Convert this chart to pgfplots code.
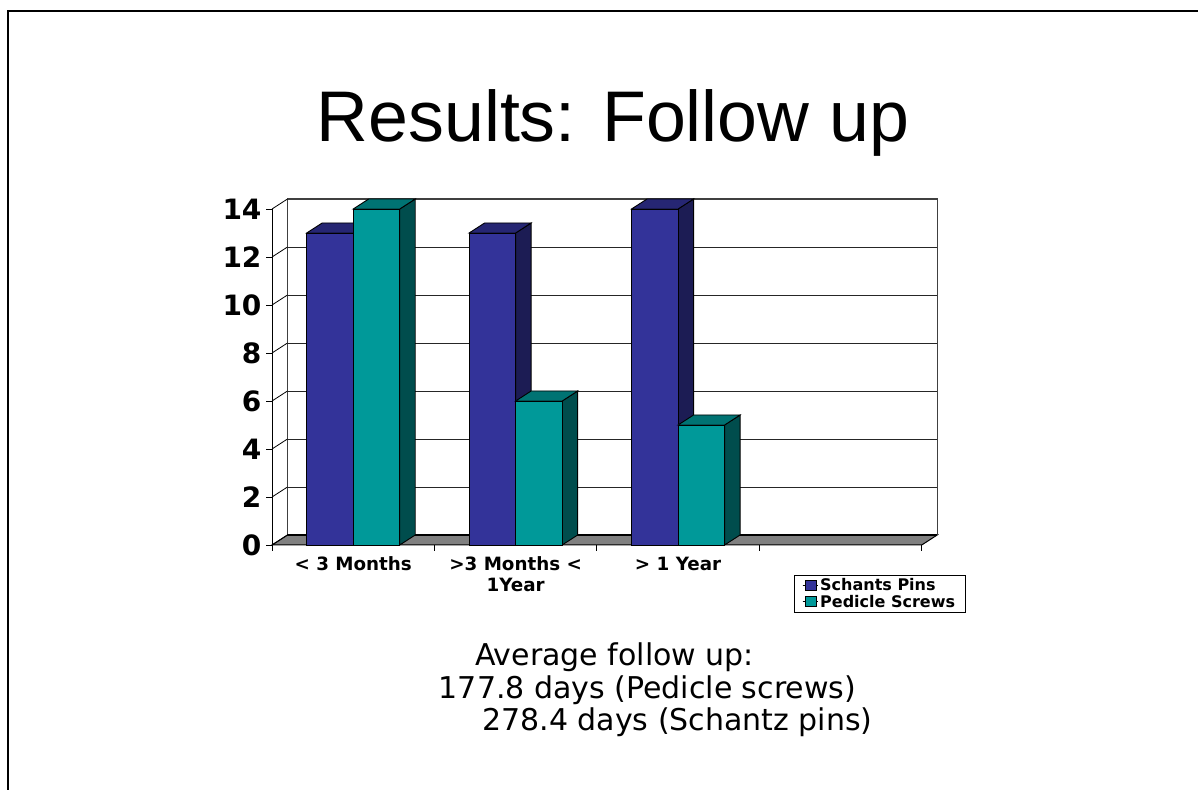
\documentclass[border=0pt]{standalone}
\usepackage{fontspec}
\usepackage{pgfplots}
\pgfplotsset{compat=1.18}
\setmainfont{DejaVu Sans}
\newfontfamily\arialfont{Liberation Sans}

\definecolor{pinsblue}{HTML}{333399}
\definecolor{pinsside}{HTML}{1C1C54}
\definecolor{pinstop}{HTML}{262673}
\definecolor{screwteal}{HTML}{009999}
\definecolor{screwside}{HTML}{004D4D}
\definecolor{screwtop}{HTML}{007373}

% depth of the fake 3d box in axis units (15.5px across, 10px up)
\newcommand{\dx}{0.0954}
\newcommand{\dy}{0.4167}

% side and top face of one bar: left x, right x, value, side colour, top colour
\newcommand{\barfaces}[5]{
  \pgfmathsetmacro{\xa}{#1+\dx}
  \pgfmathsetmacro{\xb}{#2+\dx}
  \pgfmathsetmacro{\yb}{#3+\dy}
  \addplot[forget plot,draw=black,line width=0.9pt,fill=#4] coordinates {(#2,0)(\xb,\dy)(\xb,\yb)(#2,#3)} -- cycle;
  \addplot[forget plot,draw=black,line width=0.9pt,fill=#5] coordinates {(#1,#3)(\xa,\yb)(\xb,\yb)(#2,#3)} -- cycle;
}

\begin{document}
\begin{tikzpicture}
\path[use as bounding box] (0pt,0pt) rectangle (1198pt,789pt);
\draw[line width=2pt] (8pt,-1pt) -- (8pt,778pt) -- (1199pt,778pt);

\node[font=\arialfont\fontsize{71.7}{72}\selectfont] at (613pt,666pt) {Results: Follow up};

\begin{axis}[
    at={(272pt,244pt)}, anchor=south west,
    scale only axis, width=649.7pt, height=336pt,
    xmin=0, xmax=4, ymin=0, ymax=14,
    clip=false,
    axis x line*=bottom, axis y line*=left,
    axis line style={line width=1pt,black},
    xtick={0.5,1.5,2.5},
    xticklabels={{< 3 Months},{>3 Months <\\1Year},{> 1 Year}},
    minor xtick={0,1,2,3,4},
    major x tick style={draw=none},
    minor tick length=6pt,
    ytick={0,2,...,14},
    tick align=outside,
    major tick length=6pt,
    tick style={black,line width=0.8pt},
    xticklabel style={font=\bfseries\fontsize{18.3}{21}\selectfont,align=center,yshift=-2.5pt},
    yticklabel style={font=\bfseries\fontsize{28}{28}\selectfont,xshift=-1pt},
    /pgf/number format/assume math mode=true,
    legend style={at={(0.8034,-0.0893)},anchor=north west,draw=black,line width=0.6pt,
      font=\bfseries\fontsize{16}{15}\selectfont,inner xsep=8pt,inner ysep=1.5pt,
      row sep=-1.5pt,legend cell align=left},
    legend image code/.code={
      \path (-3pt,0pt) -- (12pt,0pt);
      \draw[#1,line width=0.6pt] (0pt,-5pt) rectangle (11pt,5pt);},
]

% floor
\addplot[forget plot,draw=black,line width=1pt,fill=gray] coordinates {(0,0)(\dx,\dy)(4.0954,\dy)(4,0)} -- cycle;

% back wall and left wall
\draw[line width=1.2pt,black!75] (axis cs:\dx,\dy) -- (axis cs:\dx,14.4167) -- (axis cs:4.0954,14.4167) -- (axis cs:4.0954,\dy);
\pgfplotsinvokeforeach{2,4,...,14}{
  \draw[line width=0.8pt,black] (axis cs:0,#1) -- (axis cs:\dx,#1+\dy);
}
\pgfplotsinvokeforeach{2,4,...,12}{
  \draw[line width=0.9pt,black!85] (axis cs:\dx,#1+\dy) -- (axis cs:4.0954,#1+\dy);
}
\draw[line width=1.6pt,black] (axis cs:\dx,\dy) -- (axis cs:4.0954,\dy);
\draw[line width=0.8pt,black] (axis cs:0,0) -- (axis cs:\dx,\dy);

% Schants pins
\barfaces{0.2135}{0.5}{13}{pinsside}{pinstop}
\barfaces{1.2135}{1.5}{13}{pinsside}{pinstop}
\barfaces{2.2135}{2.5}{14}{pinsside}{pinstop}
\addplot[ybar,bar width=0.2865,bar shift=-0.14325,draw=black,line width=0.9pt,fill=pinsblue]
  coordinates {(0.5,13)(1.5,13)(2.5,14)};
\addlegendentry{Schants Pins}

% Pedicle screws
\barfaces{0.5}{0.7865}{14}{screwside}{screwtop}
\barfaces{1.5}{1.7865}{6}{screwside}{screwtop}
\barfaces{2.5}{2.7865}{5}{screwside}{screwtop}
\addplot[ybar,bar width=0.2865,bar shift=0.14325,draw=black,line width=0.9pt,fill=screwteal]
  coordinates {(0.5,14)(1.5,6)(2.5,5)};
\addlegendentry{Pedicle Screws}

\end{axis}

\node[font=\fontsize{30}{30}\selectfont] at (614.5pt,131.5pt) {Average follow up:};
\node[font=\fontsize{30}{30}\selectfont] at (647.5pt,99pt) {177.8 days (Pedicle screws)};
\node[font=\fontsize{30}{30}\selectfont] at (677.5pt,67pt) {278.4 days (Schantz pins)};
\end{tikzpicture}
\end{document}
